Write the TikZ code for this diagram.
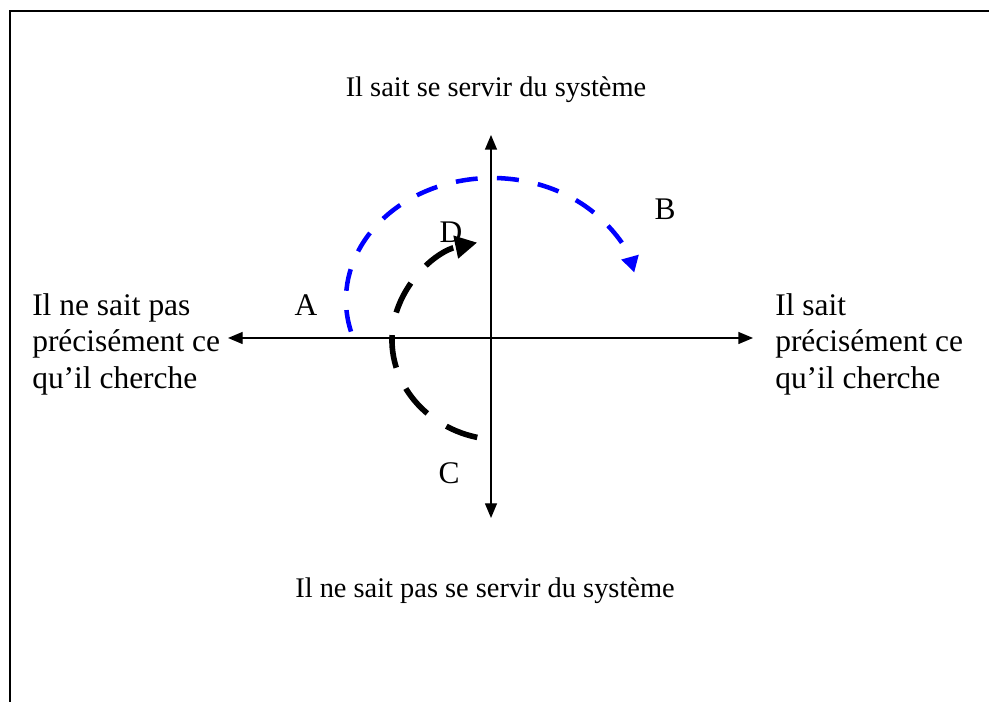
\documentclass[tikz,border=0pt]{standalone}
\usepackage{fontspec}
\setmainfont{Liberation Serif}
\usepackage{xcolor}
\usetikzlibrary{arrows.meta,positioning}

\begin{document}
\begin{tikzpicture}[
  x=0.75pt, y=0.75pt,
  txt/.style={inner sep=0pt, font=\fontsize{21.3}{25.6}\selectfont},
  big/.style={inner sep=0pt, font=\fontsize{23.6}{27.4}\selectfont},
  side/.style={big, align=left, anchor=west},
  letter/.style={big, anchor=base},
  axis/.style={{Triangle[length=11pt, width=9pt]}-{Triangle[length=11pt, width=9pt]}, line width=1pt, draw=black},
  bluearc/.style={-{Triangle[length=12pt, width=12.75pt]}, line width=3.4pt, draw=blue, dash pattern=on 16.5pt off 14.5pt},
  blackarc/.style={-{Triangle[length=16.5pt, width=16.5pt]}, line width=4.2pt, draw=black, dash pattern=on 24.75pt off 17.25pt},
]
\useasboundingbox (0,0) rectangle (989,702);

% Frame
\draw[line width=1.5pt] (10,0) -- (10,691) -- (989,691);

% Axis ends
\coordinate (west) at (228,364);
\coordinate (east) at (753,364);
\coordinate (north) at (491,567);
\coordinate (south) at (491,184);

% Labels of the four directions
\node[txt, anchor=base] (uplbl) at (496,605) {Il sait se servir du système};
\node[txt, anchor=base] (downlbl) at (485,104) {Il ne sait pas se servir du système};
\node[side] (leftlbl) at (32,358) {Il ne sait pas\\précisément ce\\qu’il cherche};
\node[side] (rightlbl) at (775,358) {Il sait\\précisément ce\\qu’il cherche};

% Letters
\node[letter] (A) at (306,386) {A};
\node[letter] (B) at (665,482) {B};
\node[letter] (C) at (449,218) {C};
\node[letter] (D) at (451,459) {D};

% Axes
\draw[axis] (west) -- (east);
\draw[axis] (south) -- (north);

% Paths
\coordinate (bluec) at (492,402);
\coordinate (blackc) at (502,362);
\draw[bluearc] (bluec) ++(195:146 and 122) arc[start angle=195, end angle=13, x radius=146, y radius=122];
\draw[blackarc] (blackc) ++(257:110 and 100) arc[start angle=257, end angle=103, x radius=110, y radius=100];

\end{tikzpicture}
\end{document}
